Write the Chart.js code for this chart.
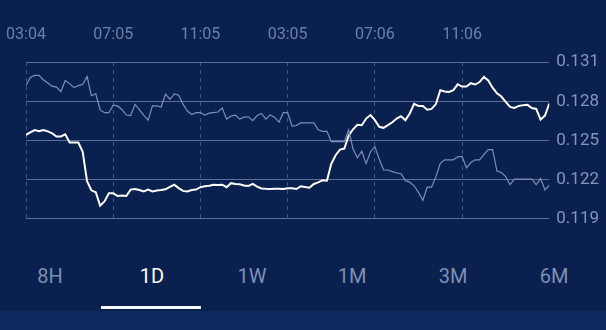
<!DOCTYPE html>
<html>
<head>
<meta charset="utf-8">
<script src="https://cdn.jsdelivr.net/npm/chart.js@4"></script>
<style>
  html, body { margin: 0; padding: 0; }
  body { width: 606px; height: 330px; background: #0a2150; position: relative; overflow: hidden; font-family: Roboto, "Noto Sans", sans-serif; }
  #wrap { position: absolute; left: 0; top: 0; width: 606px; height: 236px; }
  .tab { position: absolute; top: 264px; width: 80px; margin-left: -40px; text-align: center; font-size: 20px; color: #7d90b2; }
  .tab.on { color: #ffffff; }
  #bar { position: absolute; left: 101px; top: 306px; width: 100px; height: 3px; background: #f4f8ff; }
  #foot { position: absolute; left: 0; top: 311px; width: 606px; height: 19px; background: #0c285c; }
</style>
</head>
<body>
<div id="wrap"><canvas id="priceChart"></canvas></div>
<div id="tabs"></div>
<div id="bar"></div>
<div id="foot"></div>
<script>
// time labels on the top axis (every 20 samples = 4h, one sample = 12 min)
const timeLabels = ['03:04', '07:05', '11:05', '03:05', '07:06', '11:06'];
const timeTickPos = [0, 20, 40, 60, 80, 100];
const priceTicks = [0.119, 0.122, 0.125, 0.128, 0.131];
const rangeTabs = ['8H', '1D', '1W', '1M', '3M', '6M'];
const activeTab = '1D';

// main series (white)
const priceValues = [
  0.12544, 0.12562, 0.12580, 0.12572, 0.12580, 0.12570, 0.12555, 0.12531, 0.12531, 0.12547,
  0.12484, 0.12484, 0.12484, 0.12414, 0.12188, 0.12118, 0.12103, 0.12001, 0.12033, 0.12095,
  0.12095, 0.12075, 0.12079, 0.12075, 0.12124, 0.12129, 0.12121, 0.12110, 0.12124, 0.12110,
  0.12116, 0.12120, 0.12126, 0.12145, 0.12161, 0.12135, 0.12114, 0.12110, 0.12120, 0.12124,
  0.12142, 0.12149, 0.12154, 0.12160, 0.12159, 0.12161, 0.12142, 0.12173, 0.12167, 0.12165,
  0.12155, 0.12152, 0.12167, 0.12147, 0.12133, 0.12130, 0.12129, 0.12131, 0.12131, 0.12128,
  0.12134, 0.12134, 0.12128, 0.12149, 0.12143, 0.12138, 0.12167, 0.12179, 0.12195, 0.12192,
  0.12321, 0.12387, 0.12430, 0.12438, 0.12539, 0.12586, 0.12621, 0.12617, 0.12668, 0.12695,
  0.12656, 0.12605, 0.12597, 0.12618, 0.12640, 0.12668, 0.12686, 0.12656, 0.12707, 0.12781,
  0.12765, 0.12765, 0.12736, 0.12742, 0.12779, 0.12886, 0.12876, 0.12872, 0.12886, 0.12930,
  0.12913, 0.12913, 0.12939, 0.12929, 0.12948, 0.12987, 0.12960, 0.12905, 0.12862, 0.12837,
  0.12796, 0.12757, 0.12749, 0.12765, 0.12771, 0.12773, 0.12749, 0.12742, 0.12660, 0.12691,
  0.12783
];

// comparison series (grey)
const compareValues = [
  0.12921, 0.12983, 0.12999, 0.12999, 0.12964, 0.12940, 0.12916, 0.12909, 0.12874, 0.12960,
  0.12936, 0.12905, 0.12921, 0.12929, 0.12991, 0.12843, 0.12858, 0.12734, 0.12713, 0.12713,
  0.12770, 0.12765, 0.12738, 0.12695, 0.12691, 0.12777, 0.12736, 0.12692, 0.12656, 0.12765,
  0.12765, 0.12757, 0.12855, 0.12816, 0.12857, 0.12847, 0.12779, 0.12726, 0.12699, 0.12713,
  0.12713, 0.12695, 0.12710, 0.12714, 0.12718, 0.12749, 0.12664, 0.12687, 0.12695, 0.12664,
  0.12679, 0.12682, 0.12652, 0.12691, 0.12707, 0.12664, 0.12695, 0.12679, 0.12640, 0.12713,
  0.12713, 0.12611, 0.12615, 0.12635, 0.12635, 0.12635, 0.12635, 0.12582, 0.12570, 0.12570,
  0.12492, 0.12492, 0.12492, 0.12492, 0.12582, 0.12434, 0.12368, 0.12418, 0.12323, 0.12414,
  0.12453, 0.12356, 0.12274, 0.12274, 0.12262, 0.12251, 0.12245, 0.12192, 0.12181, 0.12153,
  0.12103, 0.12040, 0.12142, 0.12142, 0.12223, 0.12325, 0.12352, 0.12352, 0.12352, 0.12375,
  0.12379, 0.12290, 0.12331, 0.12352, 0.12352, 0.12391, 0.12430, 0.12430, 0.12266, 0.12255,
  0.12223, 0.12161, 0.12204, 0.12204, 0.12204, 0.12204, 0.12204, 0.12161, 0.12208, 0.12122,
  0.12157
];

const toPoints = arr => arr.map((v, i) => ({ x: i, y: v }));

const ctx = document.getElementById('priceChart');
new Chart(ctx, {
  type: 'line',
  data: {
    datasets: [
      {
        data: toPoints(compareValues),
        borderColor: '#7b8fb5',
        borderWidth: 1.2,
        pointRadius: 0,
        tension: 0
      },
      {
        data: toPoints(priceValues),
        borderColor: '#ffffff',
        borderWidth: 2,
        pointRadius: 0,
        tension: 0
      }
    ]
  },
  options: {
    responsive: true,
    maintainAspectRatio: false,
    animation: false,
    layout: { padding: { top: 7, left: 26, right: 0, bottom: 0 } },
    plugins: { legend: { display: false }, tooltip: { enabled: false } },
    scales: {
      x: {
        type: 'linear',
        position: 'top',
        min: 0,
        max: 120,
        afterBuildTicks: s => { s.ticks = timeTickPos.map(v => ({ value: v })); },
        afterFit: s => { s.paddingLeft = 0; s.paddingRight = 0; },
        ticks: {
          color: '#6c80a6',
          font: { family: 'Roboto', size: 16 },
          padding: 18,
          maxRotation: 0,
          autoSkip: false,
          callback: v => timeLabels[timeTickPos.indexOf(v)]
        },
        grid: { color: '#3a5684', lineWidth: 1, drawTicks: false },
        border: { display: false, dash: [4, 4] }
      },
      y: {
        position: 'right',
        min: 0.119,
        max: 0.131,
        afterBuildTicks: s => { s.ticks = priceTicks.map(v => ({ value: v })); },
        ticks: {
          color: '#8496b8',
          font: { family: 'Roboto', size: 17 },
          padding: 7,
          callback: v => v.toFixed(3)
        },
        grid: { color: '#5a6f96', lineWidth: 1, drawTicks: false },
        border: { display: false }
      }
    }
  }
});

// range tabs under the chart
const tabX = [50, 152, 252, 352, 453, 554];
const tabs = document.getElementById('tabs');
rangeTabs.forEach((t, i) => {
  const d = document.createElement('div');
  d.className = 'tab' + (t === activeTab ? ' on' : '');
  d.style.left = tabX[i] + 'px';
  d.textContent = t;
  tabs.appendChild(d);
});
</script>
</body>
</html>
